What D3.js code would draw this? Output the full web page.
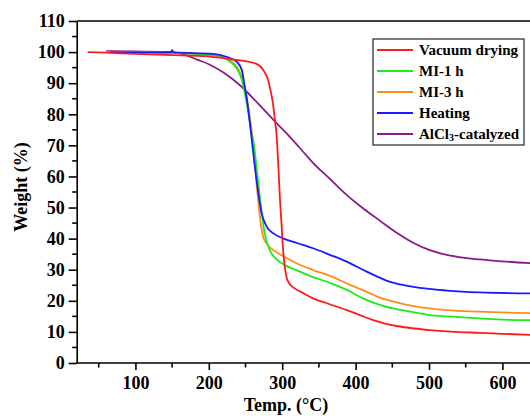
<!DOCTYPE html>
<html>
<head>
<meta charset="utf-8">
<script src="https://cdn.jsdelivr.net/npm/d3@7"></script>
<style>
  html, body { margin: 0; padding: 0; background: #fff; }
  svg { display: block; }
  text { font-family: "Liberation Serif", "Times New Roman", serif; font-weight: bold; fill: #000; }
</style>
</head>
<body>
<svg id="chart" width="530" height="418"></svg>
<script>
// ---- data ----
const seriesNames = ["Vacuum drying", "MI-1 h", "MI-3 h", "Heating", "AlCl3-catalyzed"];
const seriesColors = ["#ff1a1a", "#1aee1a", "#ff8c1a", "#1a1aff", "#8a1a8a"];

const vacuumTemp   = [35, 60, 100, 150, 190, 215, 230, 250, 265, 274, 280, 284, 288, 290, 292.5, 295, 297, 299, 301, 303, 306, 310, 317, 330, 342, 360, 388, 405, 424, 440, 456, 480, 501, 530, 569, 600, 640];
const vacuumWeight = [100, 99.8, 99.4, 99.0, 98.7, 98.2, 97.7, 97.1, 96.2, 94.3, 91.6, 87.8, 82.4, 78.2, 72.8, 62, 52.4, 45, 37, 32, 27.5, 25.5, 24.0, 22.3, 20.8, 19.3, 17.0, 15.5, 13.8, 12.7, 11.9, 11.1, 10.6, 10.1, 9.7, 9.4, 9.0];

const mi1Temp   = [60, 100, 150, 190, 215, 229, 238, 245, 249, 254, 258, 261, 265, 270, 276, 283, 292, 304, 320, 342, 365, 388, 410, 433, 456, 480, 501, 525, 547, 592, 640];
const mi1Weight = [100, 99.9, 99.7, 99.3, 98.5, 96.9, 94.8, 91.0, 86.7, 80.3, 74, 71, 63.1, 52.4, 41.8, 36.3, 33.4, 31.4, 29.8, 27.6, 25.8, 23.5, 20.8, 18.7, 17.3, 16.3, 15.4, 15.0, 14.7, 14.0, 13.8];

const mi3Temp   = [60, 100, 150, 190, 215, 229, 238, 245, 250, 255, 260, 265, 269, 274, 280, 288, 297, 304, 320, 342, 365, 388, 415, 433, 456, 479, 500, 524, 569, 640];
const mi3Weight = [100, 99.9, 99.7, 99.3, 98.7, 97.3, 95.4, 92, 87.5, 80.5, 71.5, 57.8, 48.1, 40.6, 38.0, 36.3, 35.0, 34.0, 32.0, 29.9, 28.0, 25.6, 22.9, 21.0, 19.5, 18.3, 17.6, 17.0, 16.5, 16.0];

const heatTemp   = [65, 100, 148, 150, 152, 160, 206, 224, 238, 245, 249, 252, 256, 260.6, 265, 272, 279, 288, 301, 320, 342, 365, 388, 415, 447, 479, 524, 569, 640];
const heatWeight = [100, 99.9, 99.9, 100.6, 99.9, 99.8, 99.4, 98.5, 96.9, 94.2, 88.9, 84.6, 77.1, 67.5, 58.9, 48.1, 43.8, 41.7, 40.1, 38.6, 36.9, 34.8, 32.6, 29.4, 26.1, 24.5, 23.3, 22.7, 22.4];

const alclTemp   = [60, 100, 150, 169, 185, 200, 220, 242, 265, 288, 300, 311, 335, 342, 365, 388, 410, 433, 456, 479, 501, 524, 569, 600, 640];
const alclWeight = [100.3, 100.2, 100, 99.0, 97.5, 96.1, 93.4, 89.4, 84.0, 78.2, 75.3, 72.6, 66.2, 64.4, 59.2, 54.0, 49.8, 45.8, 41.9, 38.6, 36.3, 34.8, 33.3, 32.7, 32.1];

const xTicks = [100, 200, 300, 400, 500, 600];
const xMinorTicks = [50, 150, 250, 350, 450, 550, 650];
const yTicks = [0, 10, 20, 30, 40, 50, 60, 70, 80, 90, 100, 110];
const yMinorTicks = [5, 15, 25, 35, 45, 55, 65, 75, 85, 95, 105];

const seriesTemps = [vacuumTemp, mi1Temp, mi3Temp, heatTemp, alclTemp];
const seriesWeights = [vacuumWeight, mi1Weight, mi3Weight, heatWeight, alclWeight];

// ---- layout ----
const svg = d3.select("#chart");
const pLeft = 76.7, pRight = 539.1, pTop = 21, pBottom = 363;

const x = d3.scaleLinear().domain([20, 650]).range([pLeft, pRight]);
const y = d3.scaleLinear().domain([0, 110]).range([pBottom, pTop]);

svg.append("defs").append("clipPath").attr("id", "plotclip")
  .append("rect").attr("x", pLeft).attr("y", pTop - 2).attr("width", pRight - pLeft).attr("height", pBottom - pTop + 2);

// curves
const line = d3.line().x(d => x(d[0])).y(d => y(d[1])).curve(d3.curveMonotoneX);
const g = svg.append("g").attr("clip-path", "url(#plotclip)");
const order = [4, 2, 1, 3, 0];
order.forEach(i => {
  const pts = seriesTemps[i].map((t, k) => [t, seriesWeights[i][k]]);
  g.append("path").datum(pts)
    .attr("d", line)
    .attr("fill", "none")
    .attr("stroke", seriesColors[i])
    .attr("stroke-width", 1.8)
    .attr("stroke-linejoin", "round");
});

// top frame line
svg.append("line").attr("x1", pLeft).attr("x2", 540).attr("y1", y(110)).attr("y2", y(110))
  .attr("stroke", "#000").attr("stroke-width", 1.6);

// x axis
const xAxis = svg.append("g").attr("transform", `translate(0,${pBottom})`)
  .call(d3.axisBottom(x).tickValues(xTicks).tickSize(7).tickSizeOuter(0).tickPadding(6).tickFormat(d3.format("d")));
xAxis.append("g").selectAll("line").data(xMinorTicks).join("line")
  .attr("x1", d => x(d)).attr("x2", d => x(d)).attr("y1", 0).attr("y2", 4.5)
  .attr("stroke", "#000").attr("stroke-width", 1.6);

// y axis
const yAxis = svg.append("g").attr("transform", `translate(${pLeft},0)`)
  .call(d3.axisLeft(y).tickValues(yTicks).tickSize(8).tickSizeOuter(0).tickPadding(4).tickFormat(d3.format("d")));
yAxis.append("g").selectAll("line").data(yMinorTicks).join("line")
  .attr("x1", 0).attr("x2", -4.5).attr("y1", d => y(d)).attr("y2", d => y(d))
  .attr("stroke", "#000").attr("stroke-width", 1.6);

[xAxis, yAxis].forEach(a => {
  a.select(".domain").attr("stroke", "#000").attr("stroke-width", 1.6);
  a.selectAll(".tick line").attr("stroke", "#000").attr("stroke-width", 1.6);
  a.selectAll(".tick text").style("font-family", "'Liberation Serif', 'Times New Roman', serif")
    .style("font-weight", "bold").style("font-size", "18px").attr("fill", "#000");
});
xAxis.select(".domain").attr("d", `M${pLeft},0H540`);

// axis titles
svg.append("text").attr("x", 286).attr("y", 411).attr("text-anchor", "middle")
  .style("font-size", "18px").text("Temp. (°C)");
svg.append("text").attr("transform", "translate(27,187) rotate(-90)").attr("text-anchor", "middle")
  .style("font-size", "18px").text("Weight (%)");

// legend
const lg = svg.append("g");
lg.append("rect").attr("x", 373).attr("y", 39).attr("width", 151).attr("height", 106)
  .attr("fill", "#fff").attr("stroke", "#222").attr("stroke-width", 1.2);
const rowY = [50, 71, 92, 113, 134];
seriesNames.forEach((name, i) => {
  lg.append("line").attr("x1", 377).attr("x2", 413).attr("y1", rowY[i]).attr("y2", rowY[i])
    .attr("stroke", seriesColors[i]).attr("stroke-width", 1.8);
  const t = lg.append("text").attr("x", 419).attr("y", rowY[i] + 5).style("font-size", "15px");
  if (name === "AlCl3-catalyzed") {
    t.append("tspan").text("AlCl");
    t.append("tspan").style("font-size", "10px").attr("dy", 2).text("3");
    t.append("tspan").attr("dy", -2).text("-catalyzed");
  } else {
    t.text(name);
  }
});
</script>
</body>
</html>
